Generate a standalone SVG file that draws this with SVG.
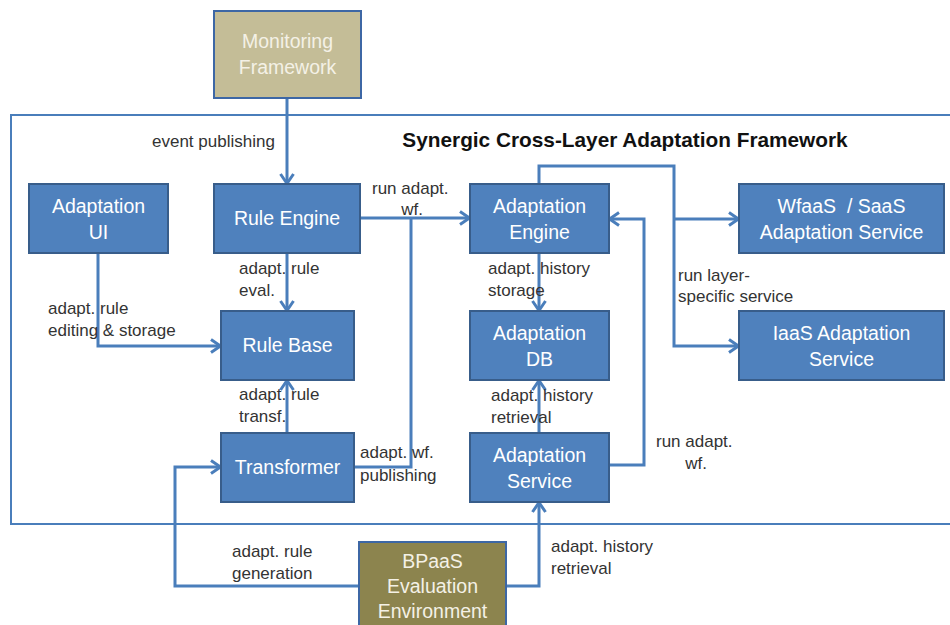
<svg xmlns="http://www.w3.org/2000/svg" width="950" height="625" viewBox="0 0 950 625">
  <defs>
    <marker id="arrow" markerUnits="userSpaceOnUse" markerWidth="12" markerHeight="16" viewBox="0 0 12 16" refX="11" refY="8" orient="auto">
      <path d="M1,1.5 L10.5,8 L1,14.5" fill="none" stroke="#4a7ebb" stroke-width="3"/>
    </marker>
    <style>
      .box { fill: #4f81bd; stroke: #385d8a; stroke-width: 2; }
      .ext { fill: #c4bd97; stroke: #3d67a5; stroke-width: 2; }
      .ext2 { fill: #8c844e; stroke: #3d67a5; stroke-width: 2; }
      .frame { fill: none; stroke: #4a7ebb; stroke-width: 2; }
      .conn { fill: none; stroke: #4a7ebb; stroke-width: 3; }
      .arr { marker-end: url(#arrow); }
      .nt { font-family: "Liberation Sans", Arial, sans-serif; font-size: 19.5px; fill: #ffffff; text-anchor: middle; }
      .nt2 { font-family: "Liberation Sans", Arial, sans-serif; font-size: 19.5px; fill: #f4f1e6; text-anchor: middle; }
      .lbl { font-family: "Liberation Sans", Arial, sans-serif; font-size: 17px; fill: #333333; }
      .title { font-family: "Liberation Sans", Arial, sans-serif; font-size: 20.8px; font-weight: bold; fill: #111111; text-anchor: middle; }
    </style>
  </defs>
  <rect width="950" height="625" fill="#ffffff"/>

  <!-- framework boundary -->
  <rect class="frame" x="11" y="115" width="940" height="409"/>
  <text class="title" x="625" y="147">Synergic Cross-Layer Adaptation Framework</text>

  <!-- connectors -->
  <g id="connectors">
    <path class="conn arr" d="M287,98 V184"/>
    <path class="conn arr" d="M360,218 H470"/>
    <path class="conn" d="M354,467 H411 V218"/>
    <path class="conn arr" d="M287,253 V311"/>
    <path class="conn arr" d="M98,253 V346 H221"/>
    <path class="conn arr" d="M287,433 V380"/>
    <path class="conn arr" d="M539,253 V311"/>
    <path class="conn arr" d="M539,433 V380"/>
    <path class="conn arr" d="M609,465 H644 V219 H609"/>
    <path class="conn arr" d="M539,184 V166 H674 V346 H739"/>
    <path class="conn arr" d="M674,219 H739"/>
    <path class="conn arr" d="M359,586 H175 V467 H221"/>
    <path class="conn arr" d="M506,586 H539 V502"/>
  </g>

  <!-- connector labels -->
  <g id="labels">
    <text class="lbl" x="152" y="147">event publishing</text>
    <text class="lbl" x="372" y="194">run adapt.</text>
    <text class="lbl" x="412" y="215" text-anchor="middle">wf.</text>
    <text class="lbl" x="239" y="274">adapt. rule</text>
    <text class="lbl" x="239" y="296">eval.</text>
    <text class="lbl" x="48" y="314">adapt. rule</text>
    <text class="lbl" x="48" y="336">editing &amp; storage</text>
    <text class="lbl" x="239" y="400">adapt. rule</text>
    <text class="lbl" x="239" y="422">transf.</text>
    <text class="lbl" x="360" y="458">adapt. wf.</text>
    <text class="lbl" x="360" y="481">publishing</text>
    <text class="lbl" x="488" y="274">adapt. history</text>
    <text class="lbl" x="488" y="296">storage</text>
    <text class="lbl" x="491" y="401">adapt. history</text>
    <text class="lbl" x="491" y="423">retrieval</text>
    <text class="lbl" x="678" y="281">run layer-</text>
    <text class="lbl" x="678" y="302">specific service</text>
    <text class="lbl" x="656" y="447">run adapt.</text>
    <text class="lbl" x="696" y="469" text-anchor="middle">wf.</text>
    <text class="lbl" x="232" y="557">adapt. rule</text>
    <text class="lbl" x="232" y="579">generation</text>
    <text class="lbl" x="551" y="552">adapt. history</text>
    <text class="lbl" x="551" y="574">retrieval</text>
  </g>

  <!-- nodes -->
  <g id="monitoring">
    <rect class="ext" x="214" y="11" width="147" height="87"/>
    <text class="nt2" x="287.5" y="48">Monitoring</text>
    <text class="nt2" x="287.5" y="74">Framework</text>
  </g>
  <g id="adaptation-ui">
    <rect class="box" x="29" y="184" width="139" height="69"/>
    <text class="nt" x="98.5" y="213">Adaptation</text>
    <text class="nt" x="98.5" y="239">UI</text>
  </g>
  <g id="rule-engine">
    <rect class="box" x="214" y="184" width="146" height="69"/>
    <text class="nt" x="287" y="225">Rule Engine</text>
  </g>
  <g id="adaptation-engine">
    <rect class="box" x="470" y="184" width="139" height="69"/>
    <text class="nt" x="539.5" y="213">Adaptation</text>
    <text class="nt" x="539.5" y="239">Engine</text>
  </g>
  <g id="wfaas-saas">
    <rect class="box" x="739" y="184" width="205" height="69"/>
    <text class="nt" x="841.5" y="213">WfaaS&#160; / SaaS</text>
    <text class="nt" x="841.5" y="239">Adaptation Service</text>
  </g>
  <g id="rule-base">
    <rect class="box" x="221" y="311" width="133" height="69"/>
    <text class="nt" x="287.5" y="352">Rule Base</text>
  </g>
  <g id="adaptation-db">
    <rect class="box" x="470" y="311" width="139" height="69"/>
    <text class="nt" x="539.5" y="340">Adaptation</text>
    <text class="nt" x="539.5" y="366">DB</text>
  </g>
  <g id="iaas">
    <rect class="box" x="739" y="311" width="205" height="69"/>
    <text class="nt" x="841.5" y="340">IaaS Adaptation</text>
    <text class="nt" x="841.5" y="366">Service</text>
  </g>
  <g id="transformer">
    <rect class="box" x="221" y="433" width="133" height="69"/>
    <text class="nt" x="287.5" y="474">Transformer</text>
  </g>
  <g id="adaptation-service">
    <rect class="box" x="470" y="433" width="139" height="69"/>
    <text class="nt" x="539.5" y="462">Adaptation</text>
    <text class="nt" x="539.5" y="488">Service</text>
  </g>
  <g id="bpaas">
    <rect class="ext2" x="359" y="542" width="147" height="95"/>
    <text class="nt2" x="432.5" y="568">BPaaS</text>
    <text class="nt2" x="432.5" y="593">Evaluation</text>
    <text class="nt2" x="432.5" y="618">Environment</text>
  </g>
</svg>
